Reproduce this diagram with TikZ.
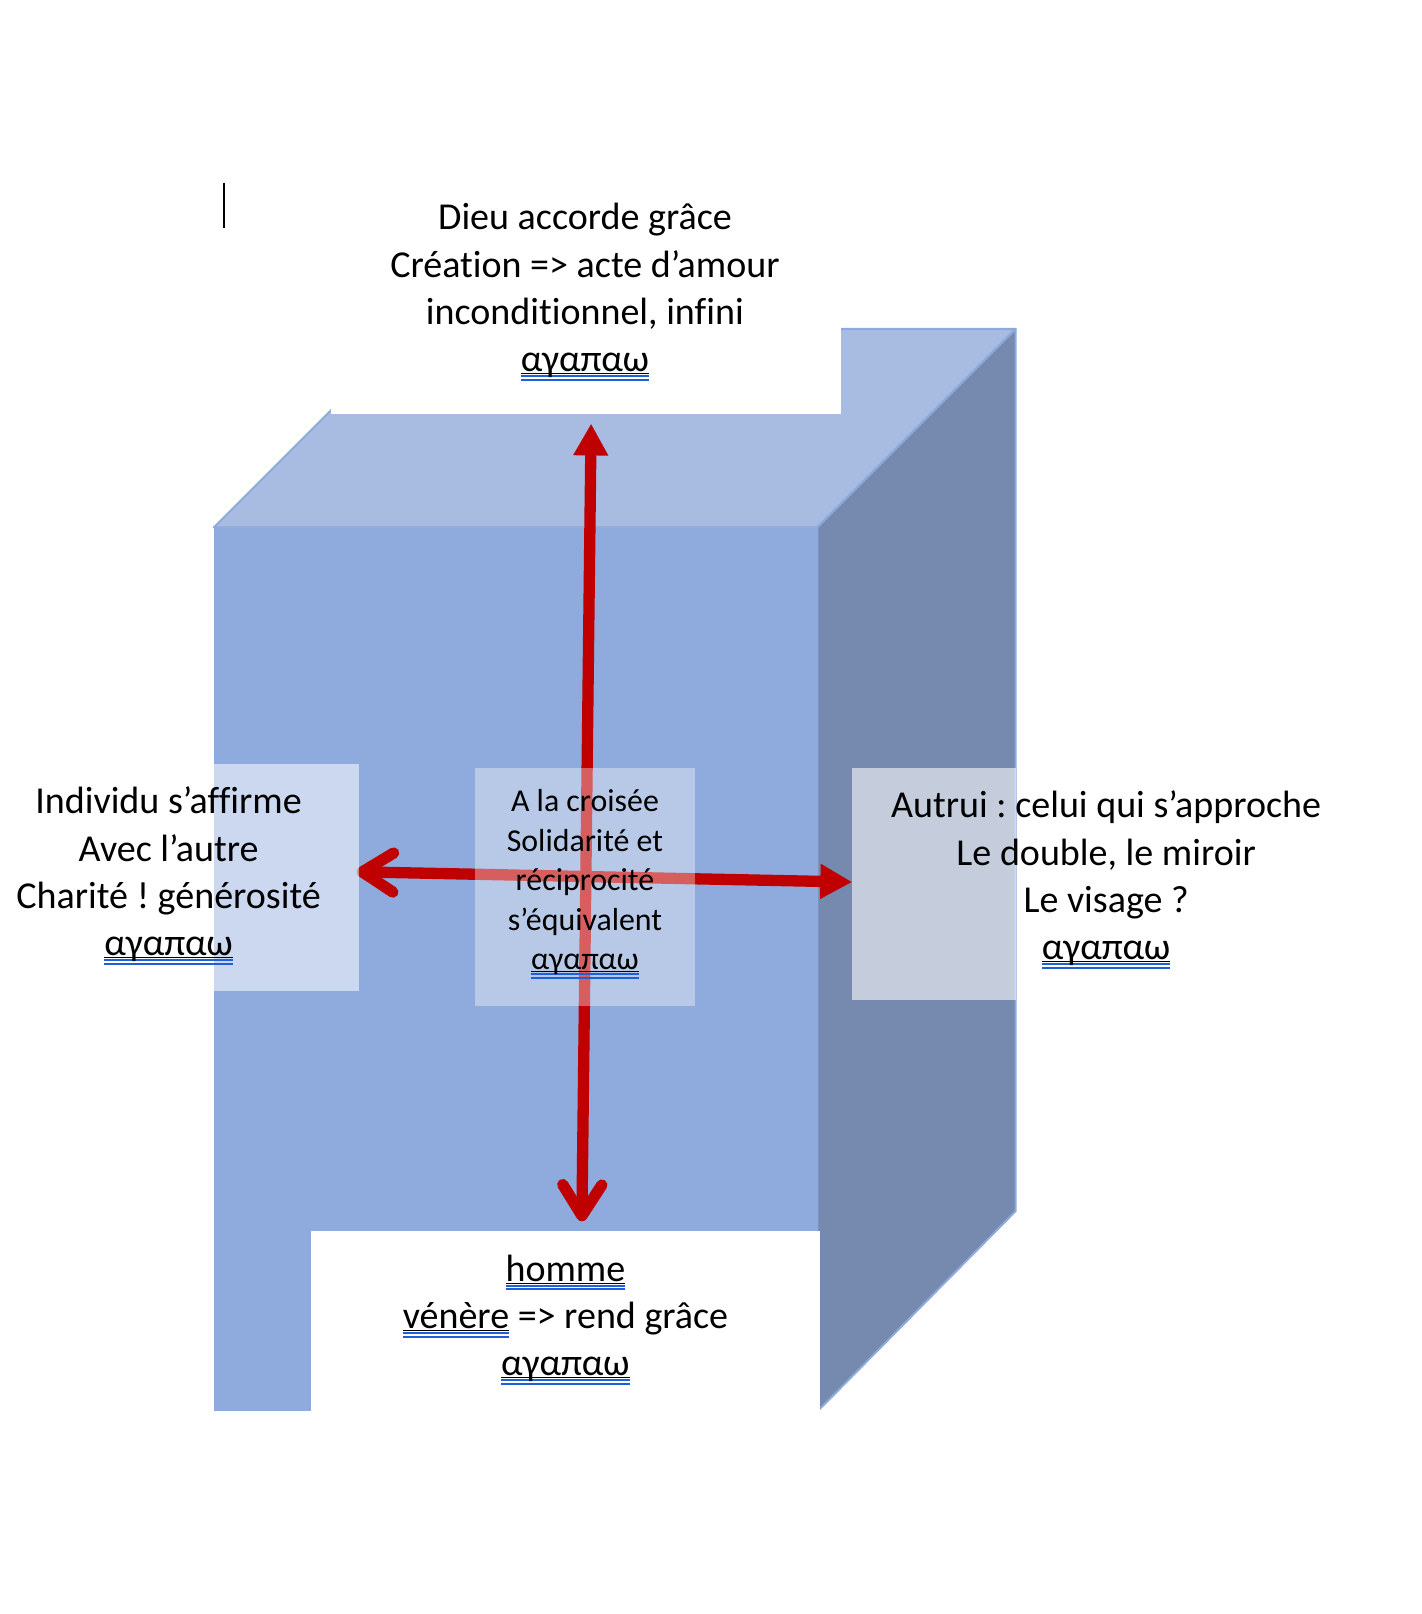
\documentclass[tikz,border=0pt]{standalone}
\usepackage{fontspec}
\setmainfont{Carlito}[Ligatures=NoCommon]
\frenchspacing
\usetikzlibrary{arrows.meta}
\definecolor{facefront}{HTML}{8FAADC}
\definecolor{facetop}{HTML}{A8BCE2}
\definecolor{faceside}{HTML}{7689AF}
\definecolor{faceedge}{HTML}{8EA9DB}
\definecolor{arrowred}{HTML}{C00000}
\definecolor{ulblue}{HTML}{1F5FD8}
\newlength\ulw
\newcommand\gramul[1]{\settowidth\ulw{#1}%
  \rlap{\rule[-1.2pt]{\ulw}{0.5pt}}%
  \rlap{\color{ulblue}\rule[-2.6pt]{\ulw}{1pt}}%
  \rlap{\color{ulblue}\rule[-4.4pt]{\ulw}{1pt}}#1}

\begin{document}
\begin{tikzpicture}[x=0.5pt,y=-0.5pt,
		face/.style={draw=faceedge,line width=1pt,line join=round},
		veil/.style={fill=white,fill opacity=#1},
		label/.style={align=center,font=\fontsize{18.5}{23}\selectfont},
		small/.style={align=center,font=\fontsize{15.5}{19.25}\selectfont},
		arrow/.style={draw=arrowred,line width=5.5pt},
		barb/.tip={Straight Barb[length=15pt,width=19pt,line cap=round,line join=round]},
		tri/.tip={Triangle[length=15.5pt,width=16pt]}
		]
		\useasboundingbox (0,0) rectangle (1383,1570);
		\filldraw[face,fill=facetop] (208,513) -- (401,320) -- (988,320) -- (795,513) -- cycle;
		\filldraw[face,fill=faceside] (795,513) -- (988,320) -- (988,1178) -- (795,1373) -- cycle;
		\fill[facefront] (208,513) rectangle (795,1373);
		\fill[white] (322,150) rectangle (818,403);
		\fill[white] (303,1197) rectangle (798,1450);
		\draw[line width=0.7pt] (218,178) -- (218,222);
		\coordinate (up) at (575,412);
		\coordinate (down) at (566,1188);
		\coordinate (west) at (347,848);
		\coordinate (east) at (829,858);
		\draw[arrow,barb-tri] (down) -- (up);
		\draw[arrow,barb-tri] (west) -- (east);
		\fill[veil=0.55] (208,743) rectangle (349,964);
		\fill[veil=0.37] (462,747) rectangle (676,979);
		\fill[veil=0.58] (829,747) rectangle (988,973);
		\node[label] (grace) at (569,284) {Dieu accorde grâce\\Création => acte d’amour\\inconditionnel, infini\\\gramul{αγαπαω}};
		\node[label] (self) at (164,852) {Individu s’affirme\\Avec l’autre\\Charité ! générosité\\\gramul{αγαπαω}};
		\node[label] (other) at (1076,856) {Autrui : celui qui s’approche\\Le double, le miroir\\Le visage ?\\\gramul{αγαπαω}};
		\node[label] (man) at (550,1284) {\gramul{homme}\\\gramul{vénère} => rend grâce\\\gramul{αγαπαω}};
		\node[small] (cross) at (569,860) {A la croisée\\Solidarité et\\réciprocité\\s’équivalent\\\gramul{αγαπαω}};
\end{tikzpicture}
\end{document}
